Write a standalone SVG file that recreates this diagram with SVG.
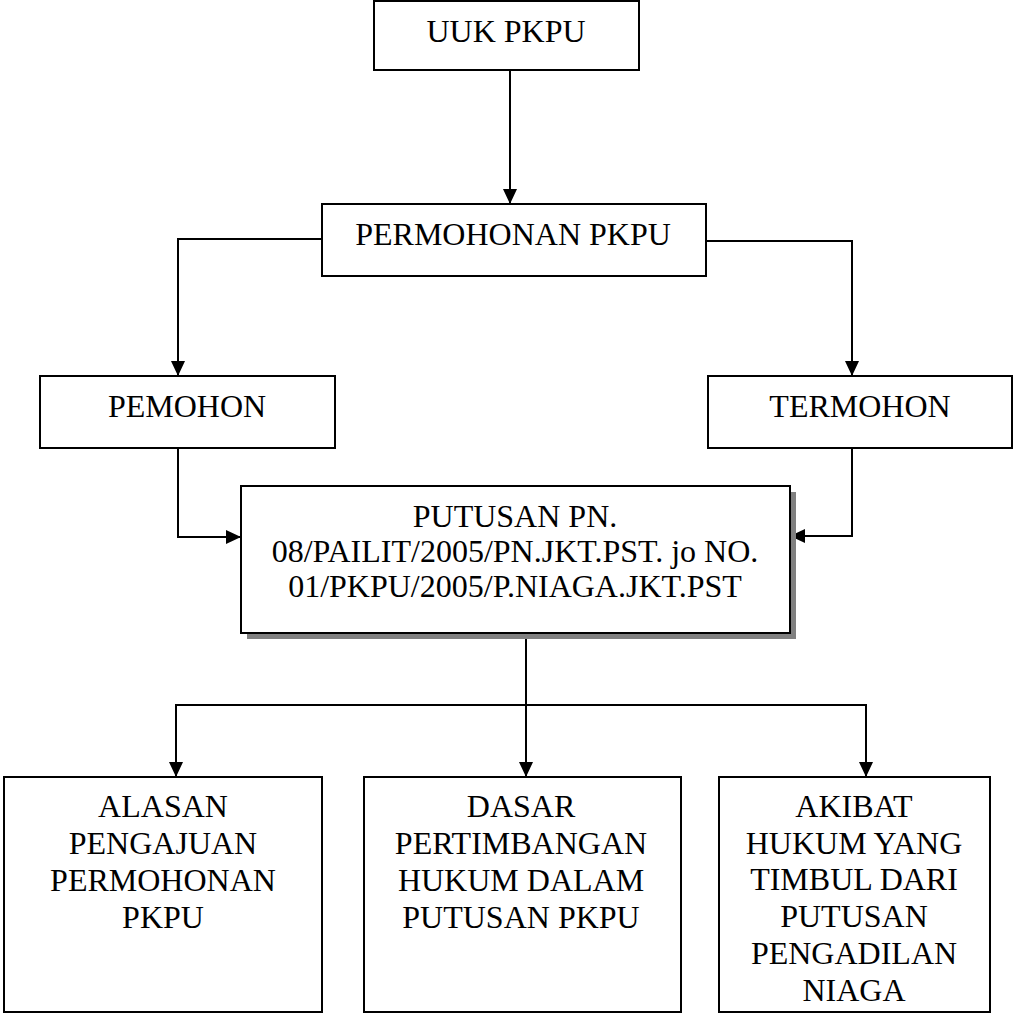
<svg xmlns="http://www.w3.org/2000/svg" width="1013" height="1015" viewBox="0 0 1013 1015">
<style>
.box{fill:#fff;stroke:#000;stroke-width:2}
.shadow{fill:#808080;stroke:none}
.lbl{font-size:32px;fill:#000;text-anchor:middle}
.con{fill:none;stroke:#000;stroke-width:2}
</style>
<defs>
<marker id="arr" viewBox="0 0 15 14" refX="15" refY="7" markerWidth="15" markerHeight="14" markerUnits="userSpaceOnUse" orient="auto">
<path d="M0,0 L15,7 L0,14 z" fill="#000"/>
</marker>
</defs>
<rect width="1013" height="1015" fill="#fff"/>
<g id="connectors">
<path class="con" d="M510,70 V204" marker-end="url(#arr)"/>
<path class="con" d="M322,239 H178 V376" marker-end="url(#arr)"/>
<path class="con" d="M706,241 H852 V376" marker-end="url(#arr)"/>
<path class="con" d="M178,448 V537 H241" marker-end="url(#arr)"/>
<path class="con" d="M852,448 V536 H790" marker-end="url(#arr)"/>
<path class="con" d="M526,639 V777" marker-end="url(#arr)"/>
<path class="con" d="M176,705 H866"/>
<path class="con" d="M176,704 V777" marker-end="url(#arr)"/>
<path class="con" d="M866,704 V777" marker-end="url(#arr)"/>
</g>
<g font-family="Liberation Serif, Times New Roman, serif">
<g id="uuk">
<rect class="box" x="374" y="1" width="265" height="69"/>
<text class="lbl" x="506" y="42">UUK PKPU</text>
</g>
<g id="permohonan">
<rect class="box" x="322" y="204" width="384" height="72"/>
<text class="lbl" x="513" y="245">PERMOHONAN PKPU</text>
</g>
<g id="pemohon">
<rect class="box" x="40" y="376" width="295" height="72"/>
<text class="lbl" x="187" y="417">PEMOHON</text>
</g>
<g id="termohon">
<rect class="box" x="708" y="376" width="304" height="72"/>
<text class="lbl" x="860" y="417">TERMOHON</text>
</g>
<g id="putusan">
<rect class="shadow" x="247" y="492" width="549" height="147"/>
<rect class="box" x="241" y="486" width="549" height="147"/>
<text class="lbl" x="515" y="527">PUTUSAN PN.</text>
<text class="lbl" x="515" y="562">08/PAILIT/2005/PN.JKT.PST. jo NO.</text>
<text class="lbl" x="515" y="597">01/PKPU/2005/P.NIAGA.JKT.PST</text>
</g>
<g id="alasan">
<rect class="box" x="4" y="777" width="318" height="235"/>
<text class="lbl" x="163" y="817">ALASAN</text>
<text class="lbl" x="163" y="854">PENGAJUAN</text>
<text class="lbl" x="163" y="891">PERMOHONAN</text>
<text class="lbl" x="163" y="928">PKPU</text>
</g>
<g id="dasar">
<rect class="box" x="364" y="777" width="317" height="235"/>
<text class="lbl" x="521" y="817">DASAR</text>
<text class="lbl" x="521" y="854">PERTIMBANGAN</text>
<text class="lbl" x="521" y="891">HUKUM DALAM</text>
<text class="lbl" x="521" y="928">PUTUSAN PKPU</text>
</g>
<g id="akibat">
<rect class="box" x="719" y="777" width="271" height="235"/>
<text class="lbl" x="854" y="817">AKIBAT</text>
<text class="lbl" x="854" y="854">HUKUM YANG</text>
<text class="lbl" x="854" y="890">TIMBUL DARI</text>
<text class="lbl" x="854" y="927">PUTUSAN</text>
<text class="lbl" x="854" y="964">PENGADILAN</text>
<text class="lbl" x="854" y="1001">NIAGA</text>
</g>
</g>
</svg>
